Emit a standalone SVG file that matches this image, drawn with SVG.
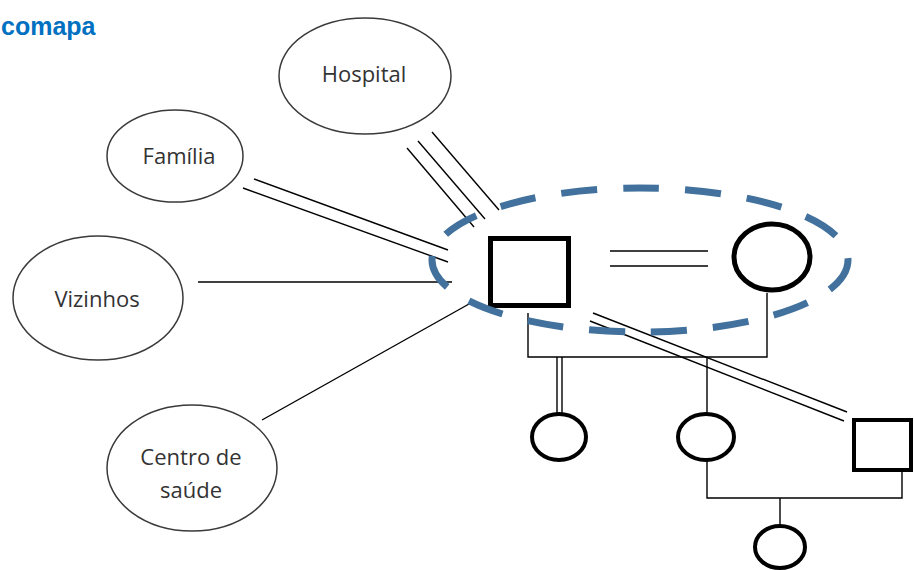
<svg xmlns="http://www.w3.org/2000/svg" width="914" height="570" viewBox="0 0 914 570">
<style>
.bg{fill:#ffffff}
.title{font-family:"Liberation Sans",Arial,sans-serif;font-weight:bold;font-size:25px;fill:#0070C0}
.ell{fill:#ffffff;stroke:#3a3a3a;stroke-width:1.5}
.lbl{font-family:"Open Sans","Liberation Sans",sans-serif;font-size:22px;fill:#333333;text-anchor:middle}
.ln{stroke:#000;stroke-width:1.4;fill:none}
.thick{fill:#fff;stroke:#000;stroke-width:5}
.med{fill:#fff;stroke:#000;stroke-width:4}
.dash{fill:none;stroke:#41719C;stroke-width:7;stroke-dasharray:36 26}
</style>
<rect class="bg" x="0" y="0" width="914" height="570"/>
<text class="title" x="1" y="35">comapa</text>

<g id="connectors">
  <line class="ln" x1="407" y1="148" x2="474" y2="227"/>
  <line class="ln" x1="418" y1="141" x2="485" y2="219"/>
  <line class="ln" x1="432" y1="132" x2="499" y2="210"/>
  <line class="ln" x1="254" y1="179" x2="448" y2="250"/>
  <line class="ln" x1="243" y1="188" x2="448" y2="262"/>
  <line class="ln" x1="198" y1="282" x2="452" y2="282"/>
  <line class="ln" x1="262" y1="420" x2="469" y2="304"/>
  <line class="ln" x1="610" y1="251" x2="708" y2="251"/>
  <line class="ln" x1="610" y1="266" x2="708" y2="266"/>
  <polyline class="ln" points="528,313 528,357 767,357 767,293"/>
  <line class="ln" x1="557" y1="357" x2="557" y2="413"/>
  <line class="ln" x1="562" y1="357" x2="562" y2="413"/>
  <line class="ln" x1="707" y1="357" x2="707" y2="414"/>
  <line class="ln" x1="593" y1="313" x2="847" y2="412"/>
  <line class="ln" x1="590" y1="321" x2="844" y2="421"/>
  <polyline class="ln" points="707,460 707,498 902,498 902,472"/>
  <line class="ln" x1="780" y1="498" x2="780" y2="525"/>
</g>

<g id="hospital">
  <ellipse class="ell" cx="365" cy="76" rx="86" ry="58"/>
  <text class="lbl" x="364" y="82">Hospital</text>
</g>
<g id="familia">
  <ellipse class="ell" cx="175" cy="156" rx="68" ry="46"/>
  <text class="lbl" x="179" y="164">Família</text>
</g>
<g id="vizinhos">
  <ellipse class="ell" cx="98" cy="298" rx="85" ry="62"/>
  <text class="lbl" x="97" y="307">Vizinhos</text>
</g>
<g id="centro">
  <ellipse class="ell" cx="192" cy="468" rx="85" ry="63"/>
  <text class="lbl" x="191" y="465">Centro de</text>
  <text class="lbl" x="191" y="498">saúde</text>
</g>

<g id="man">
  <rect class="thick" x="490.5" y="238.5" width="78" height="67"/>
</g>
<g id="woman">
  <ellipse class="thick" cx="772" cy="257" rx="38" ry="33"/>
</g>
<g id="child1">
  <ellipse class="med" cx="559" cy="437" rx="27" ry="23"/>
</g>
<g id="child2">
  <ellipse class="med" cx="706" cy="437" rx="28" ry="23"/>
</g>
<g id="partner">
  <rect class="med" x="854" y="420" width="57" height="50"/>
</g>
<g id="grandchild">
  <ellipse class="med" cx="780" cy="547" rx="25" ry="21"/>
</g>
<g id="ecomap-boundary">
  <ellipse class="dash" cx="640" cy="260" rx="208" ry="72"/>
</g>
</svg>
